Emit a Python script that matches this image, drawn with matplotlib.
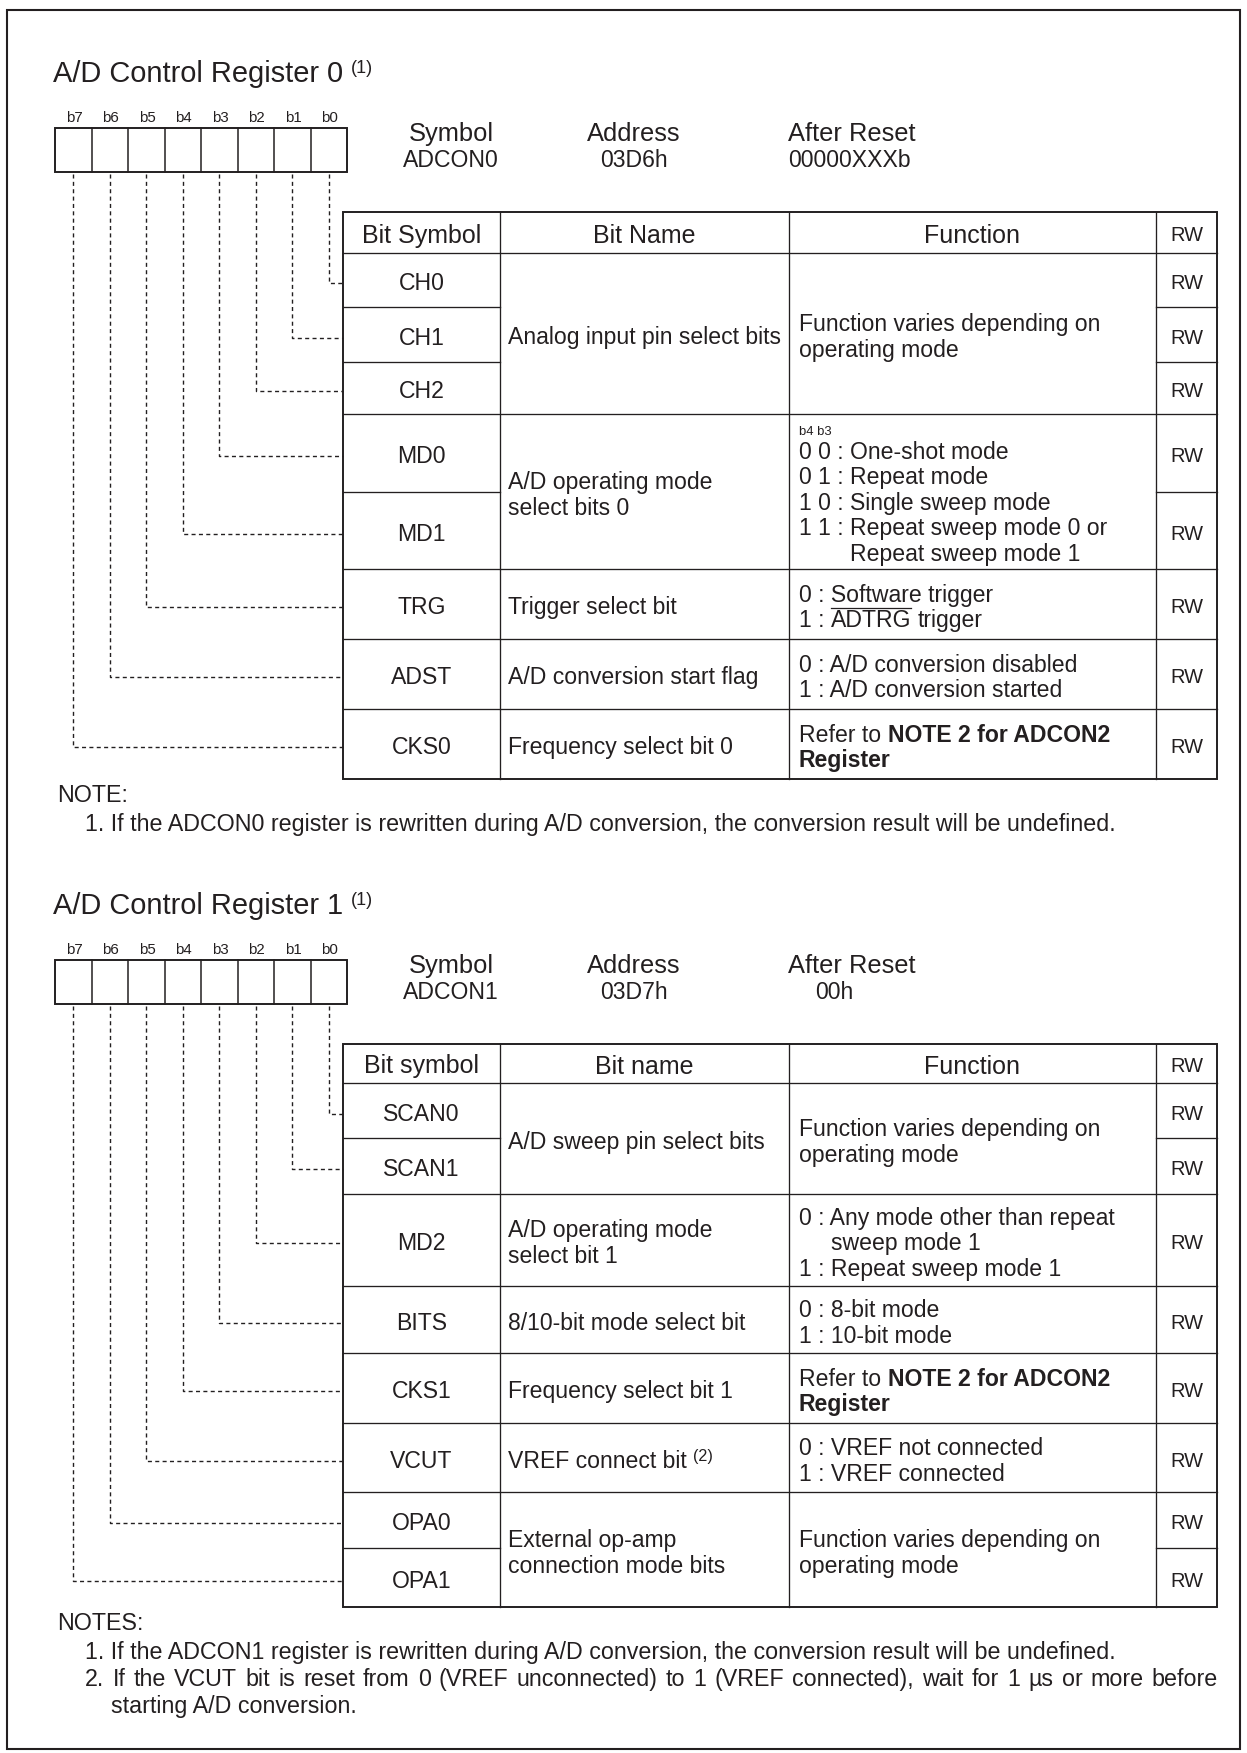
import re
import matplotlib
matplotlib.use('Agg')
import matplotlib.pyplot as plt
from matplotlib.patches import Rectangle

FONT = 'Liberation Sans'
INK = '#231f20'

# ---- data ----
bit_labels = ['b7', 'b6', 'b5', 'b4', 'b3', 'b2', 'b1', 'b0']
info_heads = ['Symbol', 'Address', 'After Reset']

reg0_title = 'A/D Control Register 0'
reg0_info = ['ADCON0', '03D6h', '00000XXXb']
reg0_header = ['Bit Symbol', 'Bit Name', 'Function', 'RW']
reg0_symbols = ['CH0', 'CH1', 'CH2', 'MD0', 'MD1', 'TRG', 'ADST', 'CKS0']
reg0_rw = ['RW'] * 8
reg0_groups = [(0, 3), (3, 5), (5, 6), (6, 7), (7, 8)]
reg0_names = [['Analog input pin select bits'],
              ['A/D operating mode', 'select bits 0'],
              ['Trigger select bit'],
              ['A/D conversion start flag'],
              ['Frequency select bit 0']]
reg0_funcs = [['Function varies depending on', 'operating mode'],
              ['0 0 : One-shot mode', '0 1 : Repeat mode', '1 0 : Single sweep mode',
               '1 1 : Repeat sweep mode 0 or', '|Repeat sweep mode 1'],
              ['0 : Software trigger', '1 : ~ADTRG~ trigger'],
              ['0 : A/D conversion disabled', '1 : A/D conversion started'],
              ['Refer to **NOTE 2 for ADCON2**', '**Register**']]
reg0_tags = [None, 'b4 b3', None, None, None]
reg0_note_head = 'NOTE:'
reg0_notes = ['1. If the ADCON0 register is rewritten during A/D conversion, '
              'the conversion result will be undefined.']

reg1_title = 'A/D Control Register 1'
reg1_info = ['ADCON1', '03D7h', '00h']
reg1_header = ['Bit symbol', 'Bit name', 'Function', 'RW']
reg1_symbols = ['SCAN0', 'SCAN1', 'MD2', 'BITS', 'CKS1', 'VCUT', 'OPA0', 'OPA1']
reg1_rw = ['RW'] * 8
reg1_groups = [(0, 2), (2, 3), (3, 4), (4, 5), (5, 6), (6, 8)]
reg1_names = [['A/D sweep pin select bits'],
              ['A/D operating mode', 'select bit 1'],
              ['8/10-bit mode select bit'],
              ['Frequency select bit 1'],
              ['VREF connect bit ^(2)^'],
              ['External op-amp', 'connection mode bits']]
reg1_funcs = [['Function varies depending on', 'operating mode'],
              ['0 : Any mode other than repeat', '|sweep mode 1', '1 : Repeat sweep mode 1'],
              ['0 : 8-bit mode', '1 : 10-bit mode'],
              ['Refer to **NOTE 2 for ADCON2**', '**Register**'],
              ['0 : VREF not connected', '1 : VREF connected'],
              ['Function varies depending on', 'operating mode']]
reg1_tags = [None] * 6
reg1_note_head = 'NOTES:'
reg1_notes = ['1. If the ADCON1 register is rewritten during A/D conversion, '
              'the conversion result will be undefined.',
              '2. If the VCUT bit is reset from 0 (VREF unconnected) to 1 (VREF connected), '
              'wait for 1 \u00b5s or more before',
              '|starting A/D conversion.']

# ---- layout (pixels) ----
reg_offsets = [0, 832]
reg0_head_h, reg0_heights = 41, [54, 55, 52, 78, 77, 70, 70, 70]
reg1_head_h, reg1_heights = 39, [55, 56, 92, 67, 70, 69, 56, 59]
reset_x = [788, 815]

COLS = [343, 500, 789, 1156, 1217]
BOX_X0, CELL = 55, 36.5
NAME_X, FUNC_X = 508, 799
NOTE_X, NOTE_END = 85, 1218
PX_TITLE, PX_SUP, PX_BIT = 29, 18, 15
PX_HEAD, PX_VAL = 25.5, 23
PX_TH, PX_BODY, PX_RW, PX_TAG, PX_NOTE = 25, 23, 20, 13, 23.2
LS = 25.5

fig = plt.figure(figsize=(12.47, 17.53), dpi=100)
ax = fig.add_axes([0, 0, 1, 1])
ax.set_xlim(0, 1247)
ax.set_ylim(1753, 0)
ax.axis('off')
R = fig.canvas.get_renderer()


def put(x, y, s, px, weight='normal', ha='left'):
    return ax.text(x, y, s, fontsize=px * 0.72, fontweight=weight, ha=ha,
                   va='baseline', color=INK, fontfamily=FONT)


def width(s, px, weight='normal'):
    if not s:
        return 0
    t = put(0, 0, s, px, weight)
    w = t.get_window_extent(R).width
    t.remove()
    return w


def space(px, weight='normal'):
    return width('x x', px, weight) - width('xx', px, weight)


def span(s, px, weight='normal'):
    core = s.strip(' ')
    n = len(s) - len(core)
    return width(core, px, weight) + n * space(px, weight)


TOKEN = re.compile(r'(\*\*[^*]+\*\*|~[^~]+~|\^[^^]+\^)')


def rich(x, yc, line, px):
    base = yc + 0.36 * px
    cx = x
    for part in TOKEN.split(line):
        if not part:
            continue
        weight, kind = 'normal', 'plain'
        if part.startswith('**'):
            part, weight = part[2:-2], 'bold'
        elif part.startswith('~'):
            part, kind = part[1:-1], 'over'
        elif part.startswith('^'):
            part, kind = part[1:-1], 'sup'
        size = px * 0.7 if kind == 'sup' else px
        core = part.strip(' ')
        lead = len(part) - len(part.lstrip(' '))
        trail = len(part) - len(part.rstrip(' '))
        sp = space(size, weight)
        cx += lead * sp
        if kind == 'sup':
            put(cx, base - 0.3 * px, core, size)
        else:
            put(cx, base, core, size, weight)
        w = width(core, size, weight)
        if kind == 'over':
            ax.plot([cx, cx + w], [base - 0.84 * px] * 2, color=INK, lw=0.9)
        cx += w + trail * sp
    return cx


def justify(x, yc, line, px, x_end):
    # spread words so the line ends at x_end, like a wrapped paragraph
    base = yc + 0.36 * px
    words = line.split(' ')
    ws = [width(w, px) for w in words]
    gap = (x_end - x - sum(ws)) / (len(words) - 1)
    cx = x
    for w, wd in zip(words, ws):
        put(cx, base, w, px)
        cx += wd + gap


def indent_of(prev, px):
    m = re.search(r'[:.] ', prev)
    return span(prev[:m.end()], px)


def lines_block(x, yc, lines, px, ls, x_end=None):
    n = len(lines)
    for k, line in enumerate(lines):
        y = yc + (k - (n - 1) / 2) * ls
        lx = x
        if line.startswith('|'):
            lx = x + indent_of(lines[k - 1], px)
            line = line[1:]
        wraps = k + 1 < n and lines[k + 1].startswith('|')
        if x_end is not None and wraps:
            justify(lx, y, line, px, x_end)
        else:
            rich(lx, y, line, px)


def hline(x0, x1, y, lw=0.95):
    ax.plot([x0, x1], [y, y], color=INK, lw=lw, solid_capstyle='projecting')


def vline(x, y0, y1, lw=0.95):
    ax.plot([x, x], [y0, y1], color=INK, lw=lw, solid_capstyle='projecting')


def draw_register(k, title, info, header, symbols, rws, groups, names, funcs, tags,
                  head_h, heights, note_head, notes):
    off = reg_offsets[k]
    # title
    end = rich(53, 72 + off, title, PX_TITLE)
    put(end + 8, 81 + off - 8, '(1)', PX_SUP)

    # bit boxes
    y0, y1 = 128 + off, 172 + off
    for i, lab in enumerate(bit_labels):
        cx = BOX_X0 + (i + 0.5) * CELL
        put(cx + 1, 117 + off + 0.36 * PX_BIT, lab, PX_BIT, ha='center')
        if i:
            vline(BOX_X0 + i * CELL, y0, y1, lw=1.1)
    ax.add_patch(Rectangle((BOX_X0, y0), 8 * CELL, y1 - y0, fill=False, ec=INK, lw=1.4))

    # symbol / address / reset
    heads_x = [451, 634]
    for j in range(2):
        put(heads_x[j], 132 + off + 0.36 * PX_HEAD, info_heads[j], PX_HEAD, ha='center')
        put(heads_x[j], 159 + off + 0.36 * PX_VAL, info[j], PX_VAL, ha='center')
    put(788, 132 + off + 0.36 * PX_HEAD, info_heads[2], PX_HEAD)
    put(reset_x[k], 159 + off + 0.36 * PX_VAL, info[2], PX_VAL)

    # table geometry
    top = 212 + off
    ys = [top, top + head_h]
    for h in heights:
        ys.append(ys[-1] + h)
    bottom = ys[-1]
    for x in COLS[1:-1]:
        vline(x, top, bottom)
    hline(COLS[0], COLS[-1], ys[1])
    starts = {g[0] for g in groups}
    for i in range(1, len(symbols)):
        y = ys[1 + i]
        if i in starts:
            hline(COLS[0], COLS[-1], y)
        else:
            hline(COLS[0], COLS[1], y)
            hline(COLS[3], COLS[4], y)
    ax.add_patch(Rectangle((COLS[0], top), COLS[-1] - COLS[0], bottom - top,
                           fill=False, ec=INK, lw=1.4))

    # header texts
    hc = (ys[0] + ys[1]) / 2 + 1
    for j, txt in enumerate(header):
        px = PX_RW if txt == 'RW' else PX_TH
        put((COLS[j] + COLS[j + 1]) / 2, hc + 0.36 * px, txt, px, ha='center')

    # rows
    for i, (sym, rw) in enumerate(zip(symbols, rws)):
        yc = (ys[1 + i] + ys[2 + i]) / 2 + 2
        put((COLS[0] + COLS[1]) / 2, yc + 0.36 * PX_BODY, sym, PX_BODY, ha='center')
        put((COLS[3] + COLS[4]) / 2, yc + 0.36 * PX_RW, rw, PX_RW, ha='center')
        # dashed connector from bit cell to the row
        bx = BOX_X0 + (7 - i + 0.5) * CELL
        yt = yc + 1
        ax.plot([bx, bx, COLS[0]], [y1 + 2, yt, yt], color=INK, lw=1.0,
                linestyle=(0, (2.9, 2.4)))

    # grouped names / functions
    for g, (a, b) in enumerate(groups):
        yc = (ys[1 + a] + ys[1 + b]) / 2 + 2
        lines_block(NAME_X, yc, names[g], PX_BODY, 26)
        if tags[g]:
            fy = yc + 8
            first = fy - (len(funcs[g]) - 1) / 2 * LS
            put(FUNC_X, first - 20 + 0.36 * PX_TAG, tags[g], PX_TAG)
        else:
            fy = yc
        lines_block(FUNC_X, fy, funcs[g], PX_BODY, LS)

    # notes
    put(57, bottom + 15 + 0.36 * PX_NOTE, note_head, PX_NOTE)
    lines_block(NOTE_X, bottom + 44 + (len(notes) - 1) / 2 * 27, notes, PX_NOTE, 27,
                x_end=NOTE_END)


draw_register(0, reg0_title, reg0_info, reg0_header, reg0_symbols, reg0_rw, reg0_groups,
              reg0_names, reg0_funcs, reg0_tags, reg0_head_h, reg0_heights,
              reg0_note_head, reg0_notes)
draw_register(1, reg1_title, reg1_info, reg1_header, reg1_symbols, reg1_rw, reg1_groups,
              reg1_names, reg1_funcs, reg1_tags, reg1_head_h, reg1_heights,
              reg1_note_head, reg1_notes)

# outer frame
ax.add_patch(Rectangle((7, 10), 1233, 1739, fill=False, ec=INK, lw=1.5))

fig.savefig('out.png', dpi=100)
